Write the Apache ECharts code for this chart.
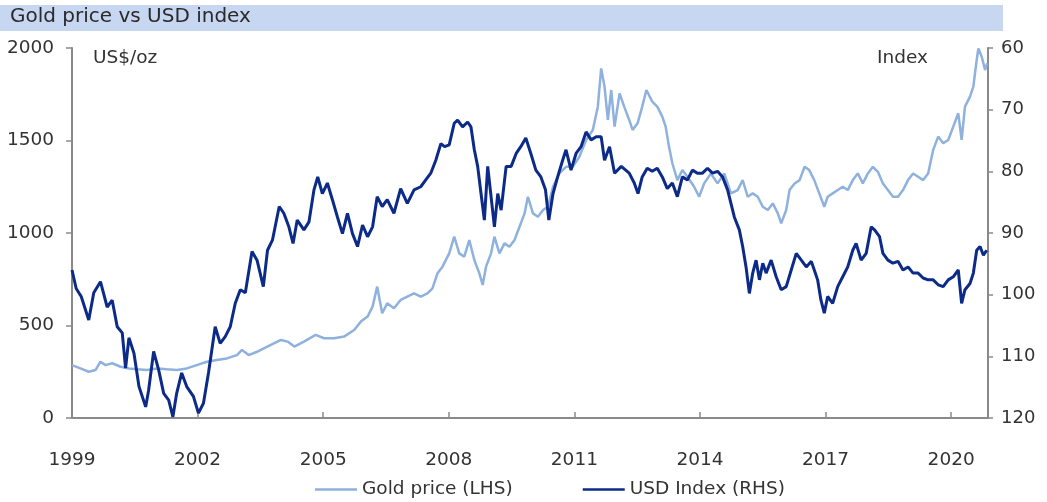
<!DOCTYPE html>
<html>
<head>
<meta charset="utf-8">
<script src="https://cdn.jsdelivr.net/npm/echarts@6/dist/echarts.min.js"></script>
<style>
html,body{margin:0;padding:0;background:#ffffff;}
#chart{width:1047px;height:502px;}
</style>
</head>
<body>
<div id="chart"></div>
<script>
// ---------- DATA ----------
const chartTitle = 'Gold price vs USD index';
const leftAxisName = 'US$/oz';
const rightAxisName = 'Index';
const goldName = 'Gold price (LHS)';
const usdName = 'USD Index (RHS)';
const baseYear = 1999;
const endYear = 2020.88;
const xTickLabels = ['1999', '2002', '2005', '2008', '2011', '2014', '2017', '2020'];
const goldTicks = [0, 500, 1000, 1500, 2000];
const usdTicks = [60, 70, 80, 90, 100, 110, 120];

// USD index (decimal year, level)
const usdYears = [
  1999.00,1999.10,1999.22,1999.40,1999.52,1999.68,1999.84,1999.96,2000.08,2000.20,
  2000.28,2000.36,2000.48,2000.60,2000.76,2000.83,2000.95,2001.07,2001.19,2001.31,
  2001.41,2001.50,2001.62,2001.74,2001.90,2002.02,2002.14,2002.26,2002.42,2002.54,
  2002.66,2002.78,2002.90,2003.02,2003.14,2003.30,2003.42,2003.57,2003.67,2003.79,
  2003.95,2004.06,2004.18,2004.28,2004.38,2004.54,2004.66,2004.78,2004.87,2004.98,
  2005.10,2005.22,2005.34,2005.46,2005.58,2005.70,2005.82,2005.94,2006.06,2006.18,
  2006.29,2006.41,2006.53,2006.69,2006.85,2007.01,2007.17,2007.33,2007.45,2007.57,
  2007.69,2007.81,2007.90,2008.01,2008.13,2008.21,2008.33,2008.45,2008.53,2008.61,
  2008.69,2008.77,2008.85,2008.93,2009.01,2009.09,2009.17,2009.25,2009.37,2009.49,
  2009.61,2009.72,2009.84,2009.96,2010.08,2010.20,2010.31,2010.39,2010.49,2010.60,
  2010.72,2010.80,2010.92,2011.04,2011.16,2011.28,2011.40,2011.52,2011.64,2011.72,
  2011.84,2011.96,2012.12,2012.31,2012.43,2012.52,2012.62,2012.74,2012.86,2012.98,
  2013.10,2013.22,2013.34,2013.46,2013.58,2013.70,2013.82,2013.94,2014.06,2014.18,
  2014.30,2014.42,2014.54,2014.66,2014.74,2014.82,2014.94,2015.02,2015.10,2015.18,
  2015.26,2015.34,2015.42,2015.50,2015.58,2015.70,2015.82,2015.94,2016.06,2016.18,
  2016.30,2016.42,2016.54,2016.66,2016.73,2016.81,2016.89,2016.97,2017.05,2017.17,
  2017.29,2017.41,2017.53,2017.65,2017.73,2017.85,2017.97,2018.09,2018.17,2018.29,
  2018.37,2018.49,2018.61,2018.73,2018.85,2018.97,2019.09,2019.21,2019.33,2019.45,
  2019.57,2019.69,2019.81,2019.93,2020.05,2020.17,2020.25,2020.33,2020.45,2020.53,
  2020.61,2020.69,2020.77,2020.85
];
const usdValues = [
  96.0,99.0,100.3,104.1,99.7,97.9,102.0,100.9,105.2,106.2,
  111.9,107.0,109.5,114.9,118.2,115.5,109.2,112.2,116.0,117.1,
  119.8,116.0,112.7,114.9,116.5,119.2,117.6,112.7,105.2,107.9,
  106.8,105.2,101.4,99.2,99.7,93.0,94.4,98.7,92.8,91.1,
  85.7,86.8,89.0,91.7,87.9,89.5,88.2,83.0,80.9,83.6,
  81.9,84.6,87.4,90.1,86.8,90.1,92.2,88.7,90.6,89.0,
  84.1,85.7,84.6,86.8,82.8,85.2,83.0,82.5,81.4,80.3,
  78.2,75.5,76.0,75.7,72.2,71.7,72.8,72.0,72.8,76.5,
  79.2,83.6,87.9,79.2,84.1,89.0,83.6,86.3,79.2,79.2,
  77.1,76.0,74.6,77.1,79.8,80.9,83.0,87.9,83.6,80.9,
  78.2,76.5,79.8,77.1,76.0,73.6,74.9,74.4,74.4,78.2,
  76.0,80.3,79.2,80.3,81.9,83.6,80.9,79.5,80.0,79.5,
  80.9,82.8,81.9,84.1,80.9,81.4,79.8,80.3,80.3,79.5,
  80.3,80.0,80.9,83.0,85.2,87.4,89.5,92.2,95.5,99.8,
  96.5,94.4,97.6,94.9,96.5,94.4,97.1,99.2,98.7,96.0,
  93.3,94.4,95.5,94.6,96.0,97.6,100.9,103.0,100.3,101.4,
  98.7,97.1,95.5,92.8,91.7,94.4,93.3,89.0,89.5,90.6,
  93.3,94.4,94.9,94.6,96.0,95.5,96.5,96.5,97.3,97.6,
  97.6,98.4,98.7,97.6,97.1,96.0,101.4,99.2,98.2,96.5,
  92.8,92.2,93.6,92.8
];

// Gold price, US$/oz (decimal year, price)
const goldYears = [
  1999.00,1999.20,1999.40,1999.56,1999.68,1999.80,1999.96,2000.16,2000.36,2000.56,
  2000.79,2001.03,2001.27,2001.51,2001.74,2001.98,2002.22,2002.46,2002.70,2002.94,
  2003.06,2003.22,2003.42,2003.51,2003.75,2003.99,2004.15,2004.31,2004.54,2004.82,
  2005.02,2005.26,2005.50,2005.74,2005.90,2006.06,2006.18,2006.29,2006.41,2006.53,
  2006.69,2006.85,2007.01,2007.17,2007.33,2007.49,2007.61,2007.73,2007.85,2008.01,
  2008.13,2008.25,2008.37,2008.49,2008.61,2008.73,2008.81,2008.89,2009.01,2009.09,
  2009.21,2009.33,2009.45,2009.57,2009.69,2009.81,2009.89,2010.01,2010.13,2010.25,
  2010.37,2010.49,2010.64,2010.80,2010.96,2011.12,2011.28,2011.44,2011.56,2011.64,
  2011.72,2011.80,2011.88,2011.96,2012.08,2012.19,2012.31,2012.39,2012.51,2012.62,
  2012.72,2012.86,2012.98,2013.10,2013.18,2013.26,2013.34,2013.46,2013.58,2013.70,
  2013.86,2013.98,2014.10,2014.26,2014.42,2014.58,2014.74,2014.90,2015.02,2015.14,
  2015.26,2015.38,2015.50,2015.62,2015.74,2015.86,2015.94,2016.06,2016.14,2016.26,
  2016.38,2016.50,2016.61,2016.73,2016.85,2016.97,2017.05,2017.17,2017.29,2017.41,
  2017.53,2017.65,2017.77,2017.89,2018.01,2018.13,2018.25,2018.37,2018.49,2018.61,
  2018.73,2018.85,2018.97,2019.09,2019.21,2019.33,2019.45,2019.57,2019.69,2019.81,
  2019.93,2020.05,2020.17,2020.25,2020.33,2020.45,2020.53,2020.61,2020.65,2020.73,
  2020.81,2020.86
];
const goldValues = [
  286,268,250,259,304,286,296,277,268,263,
  259,268,263,259,268,286,304,313,322,340,
  368,340,358,368,395,422,413,386,413,449,
  431,431,440,476,521,548,602,710,566,620,
  593,638,656,674,656,674,701,782,818,890,
  980,890,872,962,854,782,719,818,890,980,
  890,944,926,962,1034,1106,1196,1106,1088,1124,
  1142,1250,1322,1358,1358,1412,1503,1557,1683,1890,
  1791,1611,1773,1575,1755,1683,1611,1557,1593,1683,
  1773,1710,1683,1629,1575,1467,1377,1286,1340,1304,
  1250,1196,1268,1322,1268,1322,1214,1232,1286,1196,
  1214,1196,1142,1124,1160,1106,1052,1124,1232,1268,
  1286,1358,1340,1286,1214,1142,1196,1214,1232,1250,
  1232,1286,1322,1268,1322,1358,1331,1268,1232,1196,
  1196,1232,1286,1322,1304,1286,1322,1449,1521,1485,
  1503,1575,1647,1503,1683,1737,1791,1935,1998,1953,
  1881,1917
];

// ---------- CHART ----------
const FONT = 'DejaVu Sans';
const axisGrey = '#8a8a8a';
const labelColor = '#333333';
const goldColor = '#8fb1dd';
const usdColor = '#0c2b88';

const goldData = goldYears.map((y, i) => [y - baseYear, goldValues[i]]);
const usdData = usdYears.map((y, i) => [y - baseYear, usdValues[i]]);

const chart = echarts.init(document.getElementById('chart'), null, {renderer: 'canvas'});
chart.setOption({
  animation: false,
  backgroundColor: '#ffffff',
  grid: {left: 72, right: 59, top: 48, bottom: 84, containLabel: false},
  graphic: [
    {type: 'rect', left: 0, top: 5, z: 0, shape: {width: 1003, height: 26}, style: {fill: '#c7d6f1'}},
    {type: 'text', left: 10, top: 7, z: 1, style: {text: chartTitle, fill: '#2a2a2a', font: '20px "' + FONT + '"'}},
    {type: 'text', left: 93, top: 49, z: 1, style: {text: leftAxisName, fill: labelColor, font: '18.5px "' + FONT + '"'}},
    {type: 'text', left: 877, top: 49, z: 1, style: {text: rightAxisName, fill: labelColor, font: '18.5px "' + FONT + '"'}}
  ],
  legend: {
    left: 310, top: 475,
    icon: 'rect',
    itemWidth: 42, itemHeight: 2.5, itemGap: 70,
    textStyle: {fontFamily: FONT, fontSize: 18.5, color: labelColor},
    data: [goldName, usdName]
  },
  xAxis: {
    type: 'value',
    min: 0, max: endYear - baseYear, interval: 3,
    axisLine: {show: true, onZero: false, lineStyle: {color: axisGrey, width: 2}},
    axisTick: {show: true, inside: true, length: 6, lineStyle: {color: axisGrey, width: 1.5}},
    axisLabel: {
      margin: 33, showMaxLabel: false,
      fontFamily: FONT, fontSize: 18.5, color: labelColor,
      formatter: v => {
        const k = Math.round(v / 3);
        return Math.abs(v - k * 3) < 1e-6 ? (xTickLabels[k] || '') : '';
      }
    },
    splitLine: {show: false}
  },
  yAxis: [
    {
      type: 'value', position: 'left',
      min: goldTicks[0], max: goldTicks[goldTicks.length - 1], interval: goldTicks[1] - goldTicks[0],
      axisLine: {show: true, lineStyle: {color: axisGrey, width: 2}},
      axisTick: {show: true, inside: false, length: 6, lineStyle: {color: axisGrey, width: 1.5}},
      axisLabel: {margin: 18, fontFamily: FONT, fontSize: 18.5, color: labelColor, formatter: v => String(v)},
      splitLine: {show: false}
    },
    {
      type: 'value', position: 'right', inverse: true,
      min: usdTicks[0], max: usdTicks[usdTicks.length - 1], interval: usdTicks[1] - usdTicks[0],
      axisLine: {show: true, lineStyle: {color: axisGrey, width: 2}},
      axisTick: {show: true, inside: false, length: 5, lineStyle: {color: axisGrey, width: 1.5}},
      axisLabel: {margin: 13, fontFamily: FONT, fontSize: 18, color: labelColor, formatter: v => String(v)},
      splitLine: {show: false}
    }
  ],
  series: [
    {
      name: goldName, type: 'line', yAxisIndex: 0,
      data: goldData, symbol: 'none', showSymbol: false,
      lineStyle: {color: goldColor, width: 2.5},
      itemStyle: {color: goldColor},
      z: 2
    },
    {
      name: usdName, type: 'line', yAxisIndex: 1,
      data: usdData, symbol: 'none', showSymbol: false,
      lineStyle: {color: usdColor, width: 3},
      itemStyle: {color: usdColor},
      z: 3
    }
  ]
});
</script>
</body>
</html>
